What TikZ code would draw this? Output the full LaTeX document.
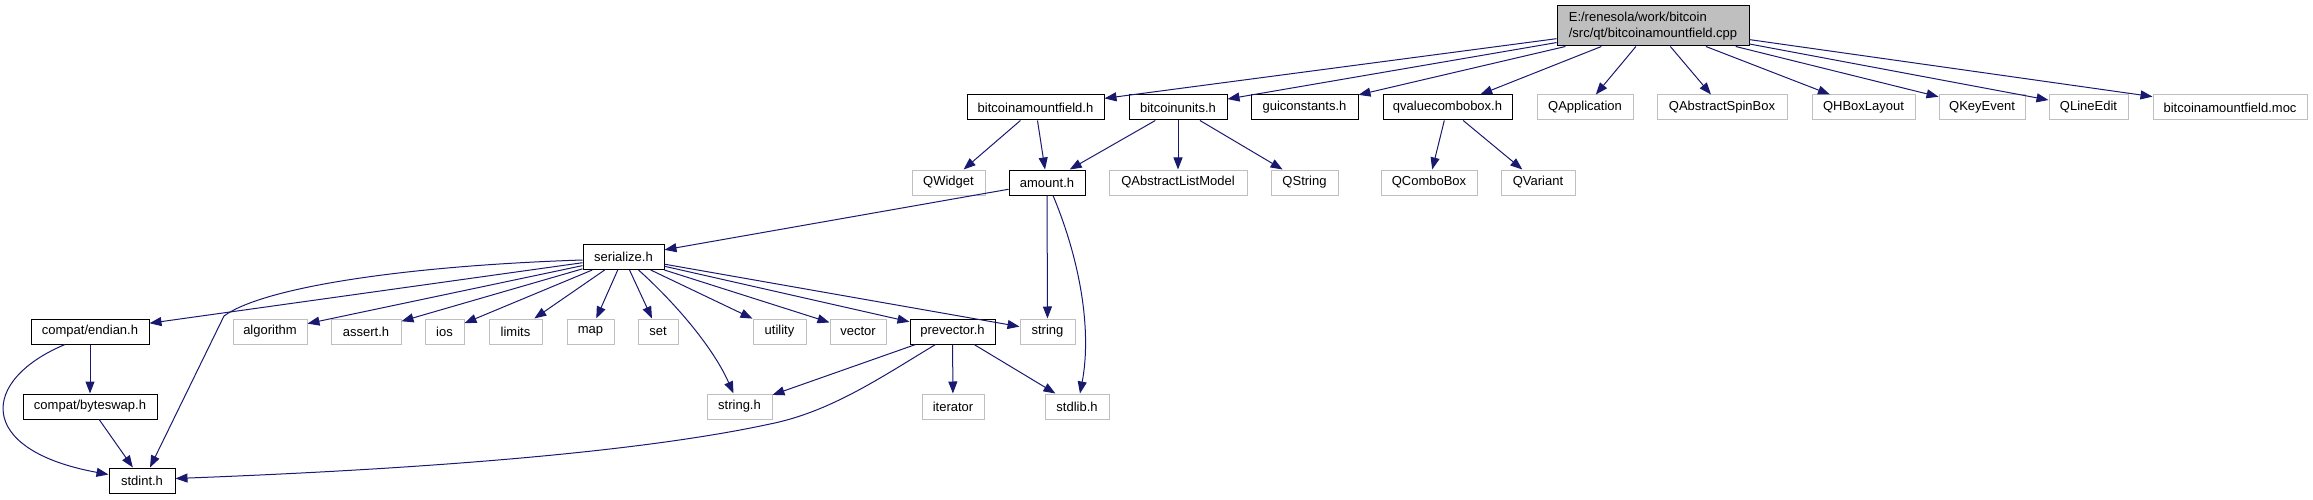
\documentclass[tikz,border=0pt]{standalone}
\usepackage{fontspec}
\setmainfont{Liberation Sans}
\usetikzlibrary{arrows.meta}
\definecolor{edgeblue}{HTML}{191970}
\definecolor{sysgray}{HTML}{BFBFBF}
\tikzset{
  filebox/.style={draw=black, line width=1pt, minimum height=25pt,
                  inner sep=0pt, font=\fontsize{13}{16}\selectfont},
  sysbox/.style={filebox, draw=sysgray},
  rootbox/.style={filebox, fill=sysgray, minimum height=40pt, align=left},
  incl/.style={edgeblue, line width=1pt, -{Triangle[length=12pt,width=9pt]}},
}

\begin{document}
\begin{tikzpicture}[x=1pt, y=-1pt]
    \useasboundingbox (0,0) rectangle (2313,500);
    % root file
    \node[rootbox, minimum width=192pt] (root) at (1653,26) {E:/renesola/work/bitcoin\\/src/qt/bitcoinamountfield.cpp};
    % first level
    \node[filebox, minimum width=137pt] (bf) at (1035.5,107.5) {bitcoinamountfield.h};
    \node[filebox, minimum width=98pt] (bu) at (1178,107.5) {bitcoinunits.h};
    \node[filebox, minimum width=107pt] (gc) at (1304.5,107.5) {guiconstants.h};
    \node[filebox, minimum width=129pt] (qv) at (1447.5,107.5) {qvaluecombobox.h};
    \node[sysbox, minimum width=96pt] (qapp) at (1585,107.5) {QApplication};
    \node[sysbox, minimum width=130pt] (qasb) at (1722,107.5) {QAbstractSpinBox};
    \node[sysbox, minimum width=103pt] (qhbl) at (1863.5,107.5) {QHBoxLayout};
    \node[sysbox, minimum width=86pt] (qke) at (1982,107.5) {QKeyEvent};
    \node[sysbox, minimum width=79pt] (qle) at (2088.5,107.5) {QLineEdit};
    \node[sysbox, minimum width=154pt] (moc) at (2230,107.5) {bitcoinamountfield.moc};
    % second level
    \node[sysbox, minimum width=73pt] (qw) at (948.5,182.5) {QWidget};
    \node[filebox, minimum width=76pt] (amt) at (1047,182.5) {amount.h};
    \node[sysbox, minimum width=138pt] (qalm) at (1178,182.5) {QAbstractListModel};
    \node[sysbox, minimum width=67pt] (qs) at (1304.5,182.5) {QString};
    \node[sysbox, minimum width=96pt] (qcb) at (1429,182.5) {QComboBox};
    \node[sysbox, minimum width=74pt] (qvar) at (1538,182.5) {QVariant};
    % serialize
    \node[filebox, minimum width=81pt] (ser) at (623.5,257) {serialize.h};
    % fourth level
    \node[filebox, minimum width=118pt] (endian) at (90,331.5) {compat/endian.h};
    \node[sysbox, minimum width=74pt] (algo) at (270,331.5) {algorithm};
    \node[sysbox, minimum width=70pt] (assert) at (366,331.5) {assert.h};
    \node[sysbox, minimum width=39pt] (ios) at (444.5,331.5) {ios};
    \node[sysbox, minimum width=53pt] (limits) at (515.5,331.5) {limits};
    \node[sysbox, minimum width=47pt] (map) at (590.5,331.5) {map};
    \node[sysbox, minimum width=40pt] (set) at (658,331.5) {set};
    \node[sysbox, minimum width=53pt] (util) at (779.5,331.5) {utility};
    \node[sysbox, minimum width=56pt] (vec) at (858,331.5) {vector};
    \node[filebox, minimum width=85pt] (prev) at (952.5,331.5) {prevector.h};
    \node[sysbox, minimum width=55pt] (str) at (1047.5,331.5) {string};
    % fifth level
    \node[filebox, minimum width=134pt] (bswap) at (90,406.5) {compat/byteswap.h};
    \node[sysbox, minimum width=65pt] (strh) at (739.5,406.5) {string.h};
    \node[sysbox, minimum width=62pt] (iter) at (953,406.5) {iterator};
    \node[sysbox, minimum width=64pt] (stdlib) at (1077,406.5) {stdlib.h};
    % bottom
    \node[filebox, minimum width=66pt] (stdint) at (142,480.5) {stdint.h};

    % includes of the root file
    \draw[incl] (root) -- (bf);
    \draw[incl] (root) -- (bu);
    \draw[incl] (root) -- (gc);
    \draw[incl] (root) -- (qv);
    \draw[incl] (root) -- (qapp);
    \draw[incl] (root) -- (qasb);
    \draw[incl] (root) -- (qhbl);
    \draw[incl] (root) -- (qke);
    \draw[incl] (root) -- (qle);
    \draw[incl] (root) -- (moc);
    % headers of the first level
    \draw[incl] (bf) -- (qw);
    \draw[incl] (bf) -- (amt);
    \draw[incl] (bu) -- (amt);
    \draw[incl] (bu) -- (qalm);
    \draw[incl] (bu) -- (qs);
    \draw[incl] (qv) -- (qcb);
    \draw[incl] (qv) -- (qvar);
    % amount.h
    \draw[incl] (amt) -- (ser);
    \draw[incl] (amt) -- (str);
    \draw[incl] ([xshift=6pt]amt.south) .. controls (1080,260) and (1092,330) .. ([xshift=3pt]stdlib.north);
    % serialize.h
    \draw[incl] ([yshift=-3pt]ser.west) .. controls (400,266) and (262,288) .. (224,316) -- ([xshift=8pt]stdint.north);
    \draw[incl] (ser) -- (endian);
    \draw[incl] (ser) -- (algo);
    \draw[incl] (ser) -- (assert);
    \draw[incl] (ser) -- (ios);
    \draw[incl] (ser) -- (limits);
    \draw[incl] (ser) -- (map);
    \draw[incl] (ser) -- (set);
    \draw[incl] ([xshift=15pt]ser.south) .. controls (672,300) and (712,345) .. ([xshift=-6pt]strh.north);
    \draw[incl] (ser) -- (util);
    \draw[incl] (ser) -- (vec);
    \draw[incl] (ser) -- (prev);
    \draw[incl] (ser) -- (str);
    % compat headers
    \draw[incl] (endian) -- (bswap);
    \draw[incl] ([xshift=-25pt]endian.south) .. controls (-20,380) and (-25,450) .. ([yshift=6pt]stdint.west);
    \draw[incl] (bswap) -- (stdint);
    % prevector.h
    \draw[incl] (prev) -- (strh);
    \draw[incl] (prev) -- (iter);
    \draw[incl] (prev) -- (stdlib);
    \draw[incl] ([xshift=-17pt]prev.south) .. controls (880,378) and (830,412) .. (770,424)
        .. controls (650,450) and (450,468) .. ([yshift=2pt]stdint.east);
\end{tikzpicture}
\end{document}
